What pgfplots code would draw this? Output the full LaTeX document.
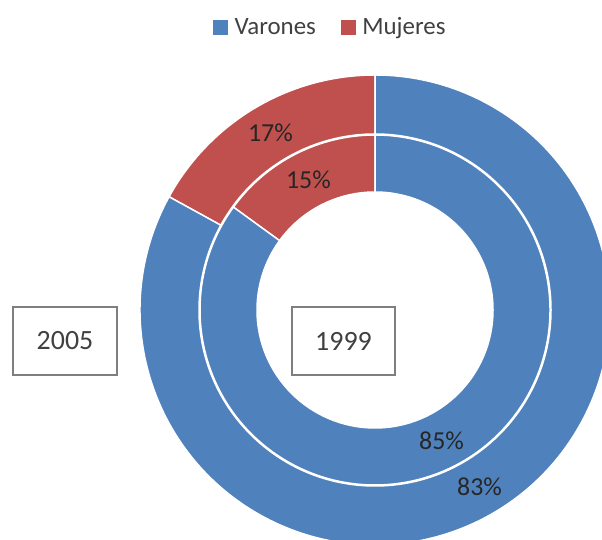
\documentclass[border=0pt]{standalone}
\usepackage{pgfplots}
\pgfplotsset{compat=1.18}
\usepackage{pgfplotstable}
\usepackage{fontspec}
\setmainfont{Carlito}
\definecolor{varon}{HTML}{4F81BD}
\definecolor{mujer}{HTML}{C0504D}
\definecolor{txtgray}{HTML}{404040}
\definecolor{boxgray}{HTML}{7F7F7F}

% ring: year, varones %, mujeres %, inner radius, outer radius (bp)
\pgfplotstableread{
year varones mujeres rin rout
2005 83 17 176 235
1999 85 15 118 175
}\datatab

\newcommand\ringseg[5]{% colour, start angle, end angle, r in, r out
  \fill[#1,draw=white,line width=1.5bp]
    ([shift={(#2:#5bp)}]axis cs:375,230) arc[start angle=#2,end angle=#3,radius=#5bp]
    -- ([shift={(#3:#4bp)}]axis cs:375,230) arc[start angle=#3,end angle=#2,radius=#4bp]
    -- cycle;}

\begin{document}
\begin{tikzpicture}
\pgfplotstablegetelem{0}{mujeres}\of\datatab \edef\mA{\pgfplotsretval}
\pgfplotstablegetelem{0}{varones}\of\datatab \edef\vA{\pgfplotsretval}
\pgfplotstablegetelem{0}{rin}\of\datatab \edef\riA{\pgfplotsretval}
\pgfplotstablegetelem{0}{rout}\of\datatab \edef\roA{\pgfplotsretval}
\pgfplotstablegetelem{1}{mujeres}\of\datatab \edef\mB{\pgfplotsretval}
\pgfplotstablegetelem{1}{varones}\of\datatab \edef\vB{\pgfplotsretval}
\pgfplotstablegetelem{1}{rin}\of\datatab \edef\riB{\pgfplotsretval}
\pgfplotstablegetelem{1}{rout}\of\datatab \edef\roB{\pgfplotsretval}
\pgfmathsetmacro\eA{90+3.6*\mA}
\pgfmathsetmacro\eB{90+3.6*\mB}
\pgfmathsetmacro\midmA{90+1.8*\mA}
\pgfmathsetmacro\midmB{90+1.8*\mB}
\pgfmathsetmacro\midvA{\eA+1.8*\vA}
\pgfmathsetmacro\midvB{\eB+1.8*\vB}
\pgfmathsetmacro\rmA{(\riA+\roA)/2}
\pgfmathsetmacro\rmB{(\riB+\roB)/2}
\begin{axis}[
  width=602bp, height=540bp, scale only axis,
  xmin=0, xmax=602, ymin=0, ymax=540,
  hide axis, clip=true,
  legend columns=2,
  legend style={at={(axis cs:213,513)}, anchor=west, draw=none, fill=none,
    inner sep=0pt, font=\fontsize{25}{30}\selectfont, text=txtgray,
    nodes={inner sep=3bp},
    /tikz/every even column/.append style={column sep=22bp}},
]
\addlegendimage{legend image code/.code={\fill[varon] (0bp,-7bp) rectangle (14bp,7bp); \path (18bp,0bp);}}
\addlegendentry{Varones}
\addlegendimage{legend image code/.code={\fill[mujer] (0bp,-7bp) rectangle (14bp,7bp); \path (18bp,0bp);}}
\addlegendentry{Mujeres}

% outer ring (2005)
\ringseg{mujer}{90}{\eA}{\riA}{\roA}
\ringseg{varon}{\eA}{450}{\riA}{\roA}
% inner ring (1999)
\ringseg{mujer}{90}{\eB}{\riB}{\roB}
\ringseg{varon}{\eB}{450}{\riB}{\roB}

\node[font=\fontsize{26}{30}\selectfont, text=black!85] at ([shift={(\midmA:\rmA bp)}]axis cs:375,230) {\mA\%};
\node[font=\fontsize{26}{30}\selectfont, text=black!85] at ([shift={(\midmB:\rmB bp)}]axis cs:375,230) {\mB\%};
\node[font=\fontsize{26}{30}\selectfont, text=black!85] at ([shift={(\midvA:\rmA bp)}]axis cs:375,230) {\vA\%};
\node[font=\fontsize{26}{30}\selectfont, text=black!85] at ([shift={(\midvB:\rmB bp)}]axis cs:375,230) {\vB\%};

\node[draw=boxgray, line width=1.3bp, minimum width=104bp, minimum height=68bp, inner sep=0pt,
      font=\fontsize{28}{30}\selectfont, text=txtgray] at (axis cs:65,199) {2005};
\node[draw=boxgray, line width=1.3bp, minimum width=103bp, minimum height=68bp, inner sep=0pt,
      font=\fontsize{28}{30}\selectfont, text=txtgray] at (axis cs:343.5,199) {1999};
\end{axis}
\pgfresetboundingbox
\path (current axis.south west) rectangle (current axis.north east);
\end{tikzpicture}
\end{document}
